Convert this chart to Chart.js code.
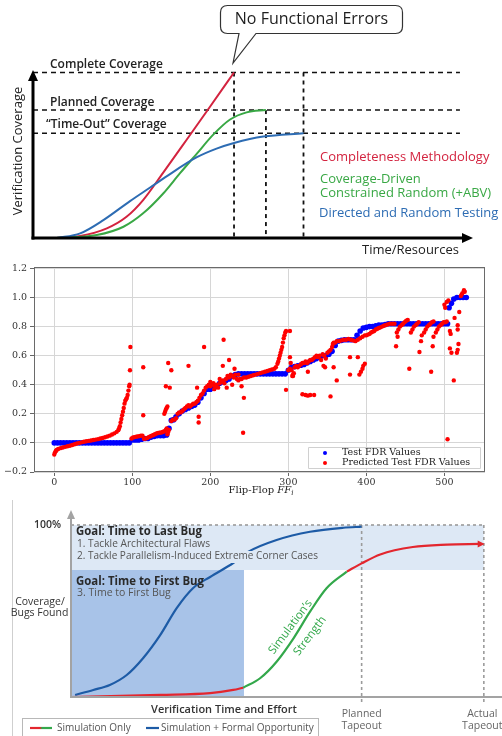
<!DOCTYPE html>
<html><head><meta charset="utf-8">
<script src="https://cdn.jsdelivr.net/npm/chart.js@4.4.1/dist/chart.umd.min.js"></script>
<style>
html,body{margin:0;padding:0;background:#fff;}
body{width:502px;height:736px;position:relative;overflow:hidden;}
canvas{position:absolute;left:0;}
#c1{top:0;} #c2{top:258px;} #c3{top:500px;}
</style></head><body>
<canvas id="c1" width="502" height="258" style="width:502px;height:258px"></canvas>
<canvas id="c2" width="502" height="242" style="width:502px;height:242px"></canvas>
<canvas id="c3" width="502" height="236" style="width:502px;height:236px"></canvas>
<script>
// ---------------- DATA : panel 1 (verification coverage) ----------------
const coverageLevels = [100, 77.3, 63.3];
const coverageLabels = ['Complete Coverage', 'Planned Coverage', '\u201cTime-Out\u201d Coverage'];
const methodNames = ['Completeness Methodology', 'Coverage-Driven Constrained Random (+ABV)', 'Directed and Random Testing'];
const completenessX = [5.4, 10.8, 16.9, 21.4, 25.2, 29.8, 35.2, 40.5, 46.0];
const completenessY = [0, 1.2, 5.8, 12.8, 22.9, 39.5, 59.5, 79.3, 100];
const coverageDrivenX = [5.4, 14.6, 20.7, 25.2, 29.8, 33.6, 37.5, 41.3, 45.1, 48.9, 53.3];
const coverageDrivenY = [0, 1.8, 6.8, 14.9, 26.9, 39, 51, 62.6, 71.6, 75.9, 77.3];
const directedX = [5.4, 10.8, 16.1, 22.2, 26.8, 30.2, 37.5, 42.0, 46.0, 52.7, 61.9];
const directedY = [0, 2.8, 10.8, 22.3, 30.5, 36.6, 48.8, 54, 57.4, 61.3, 63.3];
const finishTimes = [46.0, 53.3, 61.9];
const finishTops = [100, 77.3, 100];
const levelLineEnd = 97.7;

// ---------------- DATA : panel 2 (FDR scatter) ----------------
const xTicksFF = [0, 100, 200, 300, 400, 500];
const testFdr = [
 [0,0],[4,0],[8,0],[12,0],[16,0],[20,0],[24,0],[28,0],[32,0],[36,0],[40,0],[44,0],[48,0],[52,0],[56,0],[60,0],[64,0],[68,0],[72,0],[76,0],[80,0],[84,0],[88,0],[92,0],[96,0],
 [100,0.02],[104,0.02],[108,0.02],[112,0.025],[116,0.03],[120,0.03],[124,0.04],[128,0.045],[132,0.05],[136,0.05],[140,0.05],[144,0.055],
 [147,0.1],[150,0.155],[153,0.16],[156,0.18],[160,0.2],[164,0.22],[168,0.23],[172,0.24],[176,0.25],[180,0.26],[184,0.28],[188,0.31],[192,0.34],[196,0.37],[200,0.37],
 [204,0.38],[208,0.39],[212,0.41],[216,0.42],[220,0.43],[224,0.44],[228,0.46],[232,0.47],
 [236,0.475],[240,0.475],[244,0.475],[248,0.475],[252,0.475],[256,0.475],[260,0.475],[264,0.475],[268,0.475],[272,0.475],[276,0.475],[280,0.475],[284,0.475],[288,0.475],[292,0.475],[296,0.475],
 [300,0.5],[304,0.52],[308,0.525],[312,0.53],[316,0.535],[320,0.54],[324,0.55],[328,0.56],[332,0.57],[336,0.58],[340,0.59],[344,0.6],[348,0.6],[352,0.61],[356,0.63],[360,0.67],
 [364,0.7],[368,0.705],[372,0.71],[376,0.71],[380,0.71],[384,0.71],[388,0.74],[392,0.77],[396,0.79],[400,0.795],[404,0.8],[408,0.8],[412,0.805],[416,0.81],[420,0.81],[424,0.815],
 [428,0.82],[432,0.82],[436,0.82],[440,0.82],[444,0.82],[448,0.82],[452,0.82],[456,0.82],[460,0.82],[464,0.82],[468,0.82],[472,0.82],[476,0.82],[480,0.82],[484,0.82],[488,0.82],[492,0.82],[496,0.82],[500,0.82],[504,0.82],
 [506,0.93],[509,0.96],[512,0.99],[516,1.0],[520,1.0],[524,1.0],[528,1.0]
];
const predictedFdr = [
 [0,-0.08],[1,-0.065],[2,-0.055],[3,-0.048],[5,-0.042],[8,-0.036],[11,-0.031],[14,-0.027],[17,-0.023],[20,-0.019],[23,-0.014],[26,-0.009],[29,-0.004],[32,0],[35,0.004],[38,0.008],
 [41,0.011],[44,0.014],[47,0.017],[50,0.02],[53,0.023],[56,0.026],[59,0.03],[62,0.034],[65,0.039],[68,0.044],[71,0.05],[74,0.058],[77,0.066],[80,0.076],[82,0.088],[83,0.1],
 [84,0.115],[85,0.14],[86,0.165],[87,0.19],[88,0.215],[89,0.24],[90,0.27],[91,0.29],[92,0.3],[93,0.31],[94,0.33],[95,0.36],[96,0.39],[96.5,0.4],[97,0.5],[97.5,0.66],
 [99,0.03],[101,0.038],[103,0.04],[105,0.043],[107,0.045],[109,0.047],[111,0.049],[113,0.05],[115,0.028],[117,0.03],[119,0.034],[121,0.04],[123,0.045],[125,0.05],[127,0.055],
 [129,0.06],[131,0.065],[133,0.068],[135,0.07],[137,0.072],[139,0.075],[141,0.08],[143,0.09],[144,0.1],[145,0.06],[146,0.075],[147,0.09],
 [114,0.19],[114,0.52],[141,0.2],[142,0.215],[143,0.23],[144,0.24],[145,0.25],[143,0.39],[146,0.55],[148,0.38],[150,0.5],
 [150,0.15],[152,0.16],[154,0.16],[156,0.17],[158,0.2],[160,0.21],[162,0.21],[164,0.22],[166,0.23],[168,0.24],[170,0.25],[172,0.26],[174,0.25],[176,0.26],[178,0.27],[180,0.27],
 [182,0.28],[184,0.29],[186,0.31],[188,0.33],[190,0.34],[192,0.36],[194,0.38],[196,0.39],[198,0.4],[200,0.39],[202,0.4],[204,0.41],[206,0.39],[208,0.4],[210,0.38],[212,0.41],
 [214,0.42],[216,0.43],[218,0.41],[220,0.44],[222,0.46],[224,0.45],[226,0.47],[228,0.46],[230,0.45],[232,0.47],[234,0.44],[236,0.43],[238,0.44],[240,0.44],[243,0.45],[246,0.45],
 [249,0.455],[252,0.46],[255,0.465],[258,0.47],[261,0.475],[264,0.48],[267,0.485],[270,0.49],[273,0.495],[276,0.5],[279,0.505],[282,0.51],[284,0.52],[286,0.545],[287,0.56],
 [288,0.58],[289,0.6],[290,0.62],[291,0.64],[292,0.66],[293,0.69],[294,0.72],[295,0.74],[296,0.76],[297,0.77],[302,0.77],
 [172,0.53],[183,0.38],[185,0.18],[185,0.14],[192,0.66],[217,0.71],[224,0.57],[216,0.53],[231,0.51],[240,0.39],[243,0.31],[242,0.07],[221,0.38],[297,0.365],[200,0.42],[205,0.37],[212,0.44],[228,0.4],[236,0.47],
 [300,0.5],[302,0.51],[304,0.5],[306,0.46],[307,0.48],[308,0.52],[310,0.53],[312,0.52],[314,0.53],[316,0.54],[318,0.55],[320,0.55],[322,0.56],[324,0.55],[326,0.56],[328,0.57],
 [330,0.57],[332,0.58],[334,0.59],[336,0.6],[338,0.59],[340,0.6],[342,0.57],[344,0.61],[346,0.6],[348,0.58],[350,0.62],[352,0.63],[354,0.64],[356,0.66],[357,0.68],[358,0.69],
 [360,0.69],[362,0.7],[365,0.7],[368,0.705],[371,0.71],[374,0.71],[377,0.715],[380,0.71],[383,0.705],[386,0.7],[389,0.71],[392,0.72],[395,0.73],[398,0.74],[400,0.74],
 [302,0.59],[303,0.55],[305,0.46],[306,0.47],[318,0.335],[322,0.33],[325,0.325],[328,0.33],[333,0.33],[325,0.49],[345,0.53],[347,0.52],[354,0.32],[358,0.52],[362,0.43],
 [379,0.59],[389,0.59],[379,0.47],[391,0.47],[393,0.49],[395,0.51],[396,0.53],[398,0.545],
 [402,0.745],[404,0.75],[406,0.76],[408,0.765],[410,0.77],[412,0.78],[414,0.785],[416,0.79],[418,0.795],[420,0.8],[422,0.805],[424,0.81],[427,0.815],[430,0.82],[433,0.82],[436,0.82],
 [439,0.76],[441,0.78],[443,0.8],[445,0.81],[447,0.82],[449,0.83],[451,0.84],[453,0.845],
 [457,0.76],[459,0.78],[461,0.8],[463,0.81],[465,0.82],[467,0.83],
 [474,0.76],[476,0.78],[478,0.8],[480,0.81],[482,0.82],[484,0.83],[486,0.835],
 [489,0.76],[491,0.78],[493,0.8],[495,0.81],[497,0.82],[499,0.83],[501,0.83],[503,0.835],
 [438,0.665],[440,0.73],[455,0.51],[468,0.625],[470,0.7],[471,0.74],[483,0.49],[485,0.665],[486,0.73],
 [504,0.025],[500,0.95],[501,0.93],[503,0.97],[505,0.98],[507,0.77],[508,0.75],[507,0.65],[509,0.62],[512,0.43],[513,0.86],[517,0.81],[517,0.78],[518,0.68],[517,0.64],[516,0.62],
 [519,0.9],[521,1.01],[522,1.02],[523,1.03],[525,1.05],[526,1.04]
];

// ---------------- DATA : panel 3 (time to bug) ----------------
const formalX = [1.0, 5.4, 9.4, 13.5, 17.5, 21.6, 25.6, 29.6, 33.7, 39.3, 43.0, 49.8, 57.9, 66.0, 70.4];
const formalY = [1.2, 4.1, 7.0, 12.8, 22.7, 36, 51.7, 63.4, 69.8, 77.9, 84.5, 91.3, 96.1, 98.4, 99];
const simEarlyX = [0, 21.6, 33.7, 39.3, 41.7];
const simEarlyY = [0, 1.2, 2.2, 4.1, 5.4];
const simStrengthX = [41.7, 45.8, 49.8, 53.9, 57.9, 61.9, 66.8];
const simStrengthY = [5.4, 10.9, 20.5, 34.1, 49.6, 63.2, 72.9];
const simLateX = [66.8, 70.4, 74.9, 82.8, 91.1, 99.0];
const simLateY = [72.9, 77.7, 82.9, 87.2, 88.6, 89];
const firstBugEnd = 41.9;
const goalSplit = 73.8;
const plannedTapeout = 70.4;
const actualTapeout = 100;

// ------------------------------------------------------------
const OS = "'Open Sans', 'DejaVu Sans', sans-serif";
const SERIF = "'DejaVu Serif', 'Liberation Serif', serif";
Chart.defaults.font.family = OS;
const toXY = (xs, ys) => xs.map((x, i) => ({x: x, y: ys[i]}));
const pairs = arr => arr.map(p => ({x: p[0], y: p[1]}));

// ================= PANEL 1 =================
const RED1 = '#d3233f', GREEN1 = '#39a845', BLUE1 = '#2d6cb3';
const p1Datasets = [];
coverageLevels.forEach(l => p1Datasets.push({data: [{x: 0, y: l}, {x: levelLineEnd, y: l}], borderColor: '#111', borderWidth: 1.6, borderDash: [5, 4], pointRadius: 0, order: 5, clip: false}));
finishTimes.forEach((t, i) => p1Datasets.push({data: [{x: t, y: finishTops[i]}, {x: t, y: 0}], borderColor: '#111', borderWidth: 1.8, borderDash: [4, 4], pointRadius: 0, order: 5, clip: false}));
p1Datasets.push({label: methodNames[2], data: toXY(directedX, directedY), borderColor: BLUE1, borderWidth: 2, pointRadius: 0, cubicInterpolationMode: 'monotone', order: 1, clip: false});
p1Datasets.push({label: methodNames[1], data: toXY(coverageDrivenX, coverageDrivenY), borderColor: GREEN1, borderWidth: 2, pointRadius: 0, cubicInterpolationMode: 'monotone', order: 1, clip: false});
p1Datasets.push({label: methodNames[0], data: toXY(completenessX, completenessY), borderColor: RED1, borderWidth: 2, pointRadius: 0, cubicInterpolationMode: 'monotone', order: 1, clip: false});

const p1Decor = {
  id: 'p1Decor',
  afterDraw(chart) {
    const {ctx, scales: {x, y}} = chart;
    const ox = x.getPixelForValue(0), oy = y.getPixelForValue(0);
    ctx.save();
    ctx.strokeStyle = '#000'; ctx.fillStyle = '#000'; ctx.lineWidth = 3;
    ctx.beginPath(); ctx.moveTo(ox, oy + 1.5); ctx.lineTo(ox, 80); ctx.stroke();
    ctx.beginPath(); ctx.moveTo(ox - 1.5, oy); ctx.lineTo(463, oy); ctx.stroke();
    ctx.beginPath(); ctx.moveTo(ox, 70); ctx.lineTo(ox - 5, 81); ctx.lineTo(ox + 5, 81); ctx.closePath(); ctx.fill();
    ctx.beginPath(); ctx.moveTo(473, oy); ctx.lineTo(462, oy - 5); ctx.lineTo(462, oy + 5); ctx.closePath(); ctx.fill();
    ctx.fillStyle = '#222'; ctx.font = '600 12px ' + OS; ctx.textBaseline = 'middle'; ctx.textAlign = 'left';
    ctx.fillText(coverageLabels[0], 50, y.getPixelForValue(coverageLevels[0]) - 7.5);
    ctx.fillText(coverageLabels[1], 50, y.getPixelForValue(coverageLevels[1]) - 7.5);
    ctx.fillText(coverageLabels[2], 46, y.getPixelForValue(coverageLevels[2]) - 8.5);
    ctx.font = '13px ' + OS; ctx.fillStyle = '#222';
    ctx.fillText('Time/Resources', 362, 250);
    ctx.save(); ctx.translate(18, 151); ctx.rotate(-Math.PI / 2); ctx.textAlign = 'center';
    ctx.fillText('Verification Coverage', 0, 0); ctx.restore();
    ctx.font = '13px ' + OS; ctx.textAlign = 'left';
    ctx.fillStyle = RED1; ctx.fillText(methodNames[0], 320, 157);
    ctx.fillStyle = GREEN1; ctx.fillText('Coverage-Driven', 320, 179); ctx.fillText('Constrained Random (+ABV)', 320, 193);
    ctx.fillStyle = BLUE1; ctx.fillText(methodNames[2], 319, 213.5);
    const tipX = x.getPixelForValue(finishTimes[0]) - 1, tipY = 63;
    const bx = 220.5, by = 5.5, bw = 182, bh = 28, r = 7;
    ctx.beginPath();
    ctx.moveTo(bx + r, by); ctx.lineTo(bx + bw - r, by); ctx.quadraticCurveTo(bx + bw, by, bx + bw, by + r);
    ctx.lineTo(bx + bw, by + bh - r); ctx.quadraticCurveTo(bx + bw, by + bh, bx + bw - r, by + bh);
    ctx.lineTo(256, by + bh); ctx.lineTo(tipX, tipY); ctx.lineTo(239, by + bh);
    ctx.lineTo(bx + r, by + bh); ctx.quadraticCurveTo(bx, by + bh, bx, by + bh - r);
    ctx.lineTo(bx, by + r); ctx.quadraticCurveTo(bx, by, bx + r, by); ctx.closePath();
    ctx.fillStyle = '#fff'; ctx.fill(); ctx.strokeStyle = '#333'; ctx.lineWidth = 1.2; ctx.stroke();
    ctx.fillStyle = '#1e1e1e'; ctx.font = '16px ' + OS; ctx.textAlign = 'center';
    ctx.fillText('No Functional Errors', bx + bw / 2, 19.5);
    ctx.restore();
  }
};

new Chart(document.getElementById('c1'), {
  type: 'line',
  data: {datasets: p1Datasets},
  options: {
    responsive: false, animation: false, events: [],
    layout: {padding: {left: 33, right: 32, top: 72.5, bottom: 20}},
    plugins: {legend: {display: false}, tooltip: {enabled: false}},
    scales: {x: {type: 'linear', min: 0, max: 100, display: false}, y: {min: 0, max: 100, display: false}}
  },
  plugins: [p1Decor]
});

// ================= PANEL 2 =================
const p2Decor = {
  id: 'p2Decor',
  afterDraw(chart) {
    const {ctx, chartArea: a} = chart;
    ctx.save();
    ctx.strokeStyle = '#6a6a6a'; ctx.lineWidth = 1;
    ctx.strokeRect(a.left + 0.5, a.top + 0.5, a.right - a.left - 1, a.bottom - a.top - 1);
    const lx = 308.5, ly = 447.5 - 258, lw = 172, lh = 21;
    ctx.fillStyle = 'rgba(255,255,255,0.85)'; ctx.strokeStyle = '#d0d0d0';
    ctx.beginPath(); ctx.rect(lx, ly, lw, lh); ctx.fill(); ctx.stroke();
    const ds = chart.data.datasets;
    ctx.font = '9.5px ' + SERIF; ctx.textBaseline = 'middle'; ctx.textAlign = 'left';
    [[ds[0], ly + 5.5], [ds[1], ly + 15.5]].forEach(([d, yy]) => {
      ctx.fillStyle = d.backgroundColor; ctx.beginPath(); ctx.arc(325, yy, 2, 0, Math.PI * 2); ctx.fill();
      ctx.fillStyle = '#222'; ctx.fillText(d.label, 342, yy);
    });
    const ty = 490 - 258;
    ctx.fillStyle = '#222';
    const t1 = 'Flip-Flop ';
    ctx.font = '10px ' + SERIF; const w1 = ctx.measureText(t1).width;
    ctx.font = 'italic 10px ' + SERIF; const w2 = ctx.measureText('FF').width;
    ctx.font = 'italic 7px ' + SERIF; const w3 = ctx.measureText('i').width;
    let sx = 261 - (w1 + w2 + w3) / 2;
    ctx.font = '10px ' + SERIF; ctx.fillText(t1, sx, ty); sx += w1;
    ctx.font = 'italic 10px ' + SERIF; ctx.fillText('FF', sx, ty); sx += w2;
    ctx.font = 'italic 7px ' + SERIF; ctx.fillText('i', sx, ty + 3);
    ctx.restore();
  }
};

new Chart(document.getElementById('c2'), {
  type: 'scatter',
  data: {datasets: [
    {label: 'Test FDR Values', data: pairs(testFdr), backgroundColor: '#0000ff', borderColor: '#0000ff', pointRadius: 2.8, pointBorderWidth: 0, order: 2},
    {label: 'Predicted Test FDR Values', data: pairs(predictedFdr), backgroundColor: '#ff0000', borderColor: '#ff0000', pointRadius: 2.2, pointBorderWidth: 0, order: 1}
  ]},
  options: {
    responsive: false, animation: false, events: [],
    layout: {padding: {left: 0, right: 17, top: 9, bottom: 0}},
    plugins: {legend: {display: false}, tooltip: {enabled: false}},
    scales: {
      x: {type: 'linear', min: -26, max: 552,
          afterBuildTicks(s) { s.ticks = xTicksFF.map(v => ({value: v})); },
          ticks: {color: '#333', font: {family: SERIF, size: 9.5}, padding: 1, maxRotation: 0},
          grid: {color: '#d6d6d6', tickColor: '#666', tickLength: 4},
          border: {display: false},
          afterFit(s) { s.height = 28; }},
      y: {min: -0.2, max: 1.21,
          ticks: {stepSize: 0.2, includeBounds: false, color: '#333', font: {family: SERIF, size: 9.5}, padding: 3,
                  callback: v => (v < -1e-9 ? '\u2212' : '') + Math.abs(v).toFixed(1)},
          grid: {color: '#d6d6d6', tickColor: '#666', tickLength: 4},
          border: {display: false},
          afterFit(s) { s.width = 34; }}
    }
  },
  plugins: [p2Decor]
});

// ================= PANEL 3 =================
const RED3 = '#e3262e', GREEN3 = '#33a84b', BLUE3 = '#1d5ba6';
const LIGHT3 = '#dde8f5', DARK3 = '#a8c3e8';
const p3Decor = {
  id: 'p3Decor',
  beforeDraw(chart) {
    const {ctx} = chart;
    ctx.save();
    ctx.strokeStyle = '#cfcfcf'; ctx.lineWidth = 1;
    ctx.beginPath(); ctx.moveTo(12.5, 0); ctx.lineTo(12.5, 236); ctx.stroke();
    ctx.restore();
  },
  afterDatasetsDraw(chart) {
    const {ctx, scales: {x, y}} = chart;
    const ox = x.getPixelForValue(0), oy = y.getPixelForValue(0);
    ctx.save();
    ctx.strokeStyle = '#a3a3a3'; ctx.fillStyle = '#a3a3a3'; ctx.lineWidth = 2;
    ctx.beginPath(); ctx.moveTo(ox, oy + 1); ctx.lineTo(ox, 18); ctx.stroke();
    ctx.beginPath(); ctx.moveTo(ox, 10); ctx.lineTo(ox - 4, 19); ctx.lineTo(ox + 4, 19); ctx.closePath(); ctx.fill();
    ctx.beginPath(); ctx.moveTo(ox - 1, oy); ctx.lineTo(502, oy); ctx.stroke();
    const last = simLateX.length - 1;
    const ax = x.getPixelForValue(simLateX[last]), ay = y.getPixelForValue(simLateY[last]);
    ctx.fillStyle = RED3; ctx.beginPath(); ctx.moveTo(ax + 5, ay); ctx.lineTo(ax - 2, ay - 3.5); ctx.lineTo(ax - 2, ay + 3.5); ctx.closePath(); ctx.fill();
    ctx.textBaseline = 'middle';
    ctx.fillStyle = '#333'; ctx.font = '600 10.5px ' + OS; ctx.textAlign = 'right';
    ctx.fillText('100%', 61, y.getPixelForValue(100));
    ctx.textAlign = 'left';
    ctx.fillStyle = '#2a2a2a'; ctx.font = 'bold 13px ' + OS;
    ctx.fillText('Goal: Time to Last Bug', 76, 31.5, 126);
    ctx.fillText('Goal: Time to First Bug', 76, 81, 128);
    ctx.font = '10.5px ' + OS; ctx.fillStyle = '#555';
    ctx.fillText('1. Tackle Architectural Flaws', 77, 44, 133);
    const t2 = '2. Tackle Parallelism-Induced Extreme Corner Cases';
    ctx.fillStyle = LIGHT3; ctx.fillRect(228, 51, 92, 12);
    ctx.fillStyle = '#555'; ctx.fillText(t2, 77, 56.5, 241);
    ctx.fillText('3. Time to First Bug', 77, 93, 97);
    ctx.fillStyle = '#333'; ctx.font = '10.5px ' + OS; ctx.textAlign = 'center';
    ctx.fillText('Coverage/', 40, 102);
    ctx.fillText('Bugs Found', 39.5, 113);
    ctx.font = '600 11px ' + OS; ctx.fillStyle = '#333';
    ctx.fillText('Verification Time and Effort', 224, 210);
    ctx.font = '10.5px ' + OS; ctx.fillStyle = '#666';
    const px = x.getPixelForValue(plannedTapeout), qx = x.getPixelForValue(actualTapeout);
    ctx.fillText('Planned', px, 214); ctx.fillText('Tapeout', px, 226);
    ctx.fillText('Actual', qx - 1.5, 214); ctx.fillText('Tapeout', qx - 1.5, 226);
    ctx.fillStyle = GREEN3; ctx.font = '11.5px ' + OS;
    [['Simulation\u2019s', 290.5, 127], ['Strength', 310, 136]].forEach(([t, cx, cy]) => {
      ctx.save(); ctx.translate(cx, cy); ctx.rotate(-53 * Math.PI / 180); ctx.fillText(t, 0, 0); ctx.restore();
    });
    ctx.strokeStyle = '#b8b8b8'; ctx.lineWidth = 1;
    ctx.strokeRect(22.5, 218.5, 296, 22);
    const g = ctx.createLinearGradient(30, 0, 52, 0);
    g.addColorStop(0, RED3); g.addColorStop(0.45, RED3); g.addColorStop(0.55, GREEN3); g.addColorStop(1, GREEN3);
    ctx.strokeStyle = g; ctx.lineWidth = 2.2;
    ctx.beginPath(); ctx.moveTo(30, 228); ctx.lineTo(52, 228); ctx.stroke();
    ctx.strokeStyle = BLUE3;
    ctx.beginPath(); ctx.moveTo(146, 228); ctx.lineTo(159, 228); ctx.stroke();
    const ds = chart.data.datasets.filter(d => d.label);
    ctx.fillStyle = '#555'; ctx.font = '10px ' + OS; ctx.textAlign = 'left';
    ctx.fillText(ds.find(d => d.label === 'Simulation Only').label, 57, 228.5, 74);
    ctx.fillText(ds.find(d => d.label !== 'Simulation Only').label, 161, 228.5, 153);
    ctx.restore();
  }
};

new Chart(document.getElementById('c3'), {
  type: 'line',
  data: {datasets: [
    {data: [{x: 0, y: 100}, {x: actualTapeout, y: 100}], borderWidth: 0, borderColor: 'rgba(0,0,0,0)', backgroundColor: LIGHT3, fill: {value: goalSplit}, pointRadius: 0, order: 10},
    {data: [{x: 0, y: goalSplit}, {x: firstBugEnd, y: goalSplit}], borderWidth: 0, borderColor: 'rgba(0,0,0,0)', backgroundColor: DARK3, fill: 'origin', pointRadius: 0, order: 9},
    {data: [{x: 0, y: 100}, {x: actualTapeout, y: 100}], borderColor: '#9b9b9b', borderWidth: 1.6, borderDash: [3, 3], pointRadius: 0, order: 6, clip: false},
    {data: [{x: plannedTapeout, y: 100}, {x: plannedTapeout, y: -3}], borderColor: '#9b9b9b', borderWidth: 1.6, borderDash: [3, 3], pointRadius: 0, order: 6, clip: false},
    {data: [{x: actualTapeout, y: 100}, {x: actualTapeout, y: -3}], borderColor: '#9b9b9b', borderWidth: 1.6, borderDash: [3, 3], pointRadius: 0, order: 6, clip: false},
    {label: 'Simulation + Formal Opportunity', data: toXY(formalX, formalY), borderColor: BLUE3, borderWidth: 2.2, pointRadius: 0, cubicInterpolationMode: 'monotone', order: 2, clip: false},
    {label: 'Simulation Only', data: toXY(simEarlyX, simEarlyY), borderColor: RED3, borderWidth: 2.2, pointRadius: 0, cubicInterpolationMode: 'monotone', order: 1, clip: false},
    {data: toXY(simStrengthX, simStrengthY), borderColor: GREEN3, borderWidth: 2.2, pointRadius: 0, cubicInterpolationMode: 'monotone', order: 1, clip: false},
    {data: toXY(simLateX, simLateY), borderColor: RED3, borderWidth: 2.2, pointRadius: 0, cubicInterpolationMode: 'monotone', order: 1, clip: false}
  ]},
  options: {
    responsive: false, animation: false, events: [],
    layout: {padding: {left: 71, right: 0, top: 25, bottom: 39}},
    plugins: {legend: {display: false}, tooltip: {enabled: false}},
    scales: {x: {type: 'linear', min: 0, max: 104.4, display: false}, y: {min: 0, max: 100, display: false}}
  },
  plugins: [p3Decor]
});
</script></body></html>
